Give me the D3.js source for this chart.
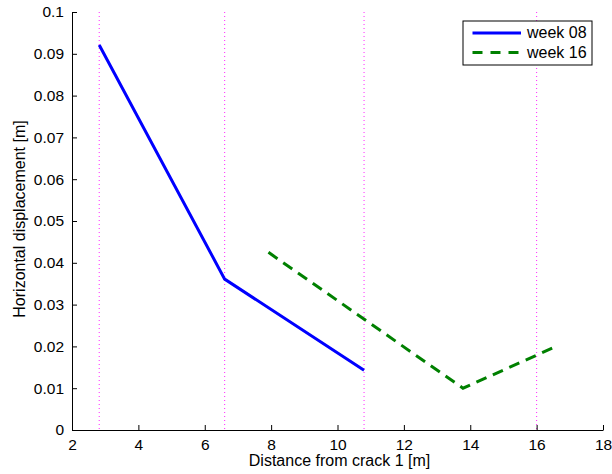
<!DOCTYPE html>
<html>
<head>
<meta charset="utf-8">
<script src="https://cdn.jsdelivr.net/npm/d3@7"></script>
<style>
  html, body { margin: 0; padding: 0; background: #fff; }
  svg text { font-family: "Liberation Sans", Arial, Helvetica, sans-serif; }
</style>
</head>
<body>
<svg id="chart" width="612" height="474"></svg>
<script>
// Measured horizontal displacement versus distance from crack 1
const week08X = [2.82, 6.6, 10.8];
const week08Y = [0.0921, 0.0361, 0.0143];
const week16X = [7.92, 13.78, 16.62];
const week16Y = [0.0425, 0.0100, 0.0201];
const markerX = [2.82, 6.6, 10.8, 16.0];   // sensor positions (vertical guides)
const xTicks = [2, 4, 6, 8, 10, 12, 14, 16, 18];
const yTicks = [0, 0.01, 0.02, 0.03, 0.04, 0.05, 0.06, 0.07, 0.08, 0.09, 0.1];
const seriesNames = ["week 08", "week 16"];

const svg = d3.select("#chart");
const plotLeft = 72, plotRight = 603, plotTop = 12, plotBottom = 430;

const x = d3.scaleLinear().domain([2, 18]).range([plotLeft, plotRight]);
const y = d3.scaleLinear().domain([0, 0.1]).range([plotBottom, plotTop]);

// vertical dotted guides
svg.append("g").selectAll("line").data(markerX).join("line")
  .attr("x1", d => x(d)).attr("x2", d => x(d))
  .attr("y1", y(0.1)).attr("y2", y(0))
  .attr("stroke", "#ff00ff").attr("stroke-width", 1)
  .attr("stroke-dasharray", "1,3").attr("opacity", 0.85);

// axes
const xAxis = d3.axisBottom(x).tickValues(xTicks).tickSizeInner(-5).tickSizeOuter(0)
  .tickFormat(d3.format("d")).tickPadding(9);
const gx = svg.append("g").attr("transform", `translate(0,${plotBottom})`).call(xAxis);
const yAxis = d3.axisLeft(y).tickValues(yTicks).tickSizeInner(-5).tickSizeOuter(0)
  .tickFormat(d => d === 0 ? "0" : d3.format(".2~f")(d)).tickPadding(8);
const gy = svg.append("g").attr("transform", `translate(${plotLeft},0)`).call(yAxis);
[gx, gy].forEach(g => {
  g.select(".domain").attr("stroke", "#000").attr("stroke-width", 1);
  g.selectAll(".tick line").attr("stroke", "#000");
  g.selectAll(".tick text").attr("fill", "#000").attr("font-size", 15.5)
    .style("font-family", "'Liberation Sans', Arial, sans-serif");
});

// lines
const line = d3.line().x(d => x(d[0])).y(d => y(d[1]));
const d08 = week08X.map((v, i) => [v, week08Y[i]]);
const d16 = week16X.map((v, i) => [v, week16Y[i]]);
svg.append("path").attr("d", line(d08)).attr("fill", "none")
  .attr("stroke", "#0000ff").attr("stroke-width", 3);
svg.append("path").attr("d", line(d16)).attr("fill", "none")
  .attr("stroke", "#008000").attr("stroke-width", 3).attr("stroke-dasharray", "11,7");

// axis labels
svg.append("text").attr("x", (plotLeft + plotRight) / 2 + 2).attr("y", 466)
  .attr("text-anchor", "middle").attr("font-size", 16).text("Distance from crack 1 [m]");
svg.append("text").attr("transform", `translate(25,${(plotTop + plotBottom) / 2 - 2}) rotate(-90)`)
  .attr("text-anchor", "middle").attr("font-size", 16).text("Horizontal displacement [m]");

// legend
const lg = svg.append("g").attr("transform", "translate(463,21)");
lg.append("rect").attr("width", 129).attr("height", 44)
  .attr("fill", "#fff").attr("stroke", "#000").attr("stroke-width", 1);
const styles = [
  { color: "#0000ff", dash: null },
  { color: "#008000", dash: "10,8" }
];
seriesNames.forEach((name, i) => {
  const yy = 12 + i * 19.5;
  lg.append("line").attr("x1", 9.5).attr("x2", 58).attr("y1", yy).attr("y2", yy)
    .attr("stroke", styles[i].color).attr("stroke-width", 3)
    .attr("stroke-dasharray", styles[i].dash);
  lg.append("text").attr("x", 64).attr("y", yy + 5).attr("font-size", 16).text(name);
});
</script>
</body>
</html>
